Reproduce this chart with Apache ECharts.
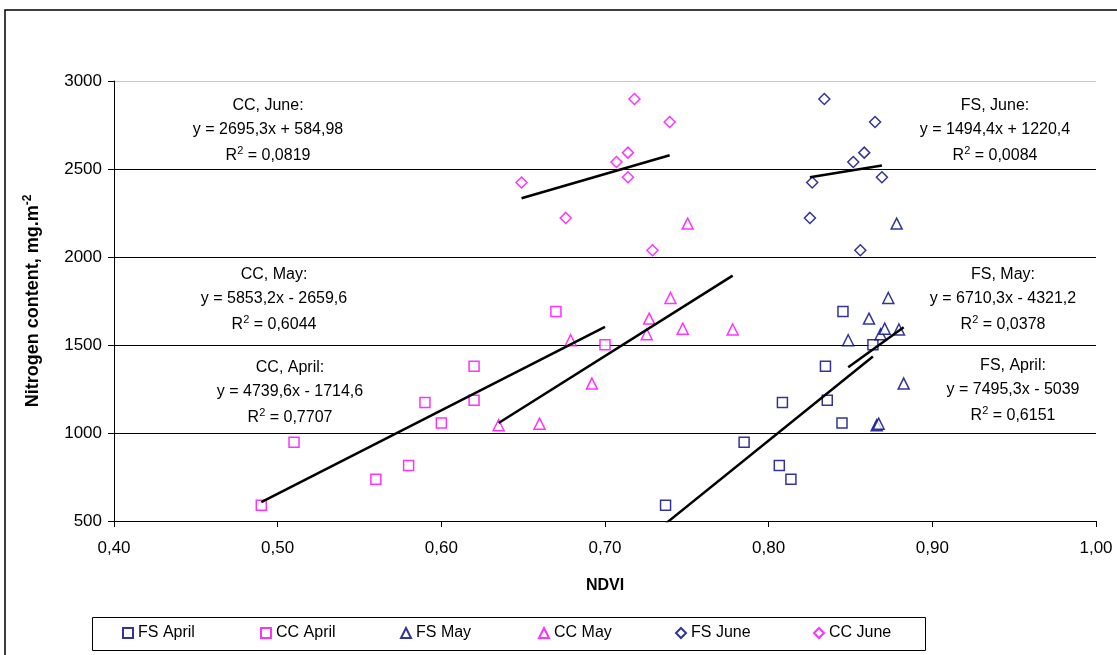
<!DOCTYPE html>
<html>
<head>
<meta charset="utf-8">
<script src="https://cdn.jsdelivr.net/npm/echarts@6/dist/echarts.min.js"></script>
<style>
  html, body { margin: 0; padding: 0; background: #fff; }
  #chart { width: 1117px; height: 655px; }
</style>
</head>
<body>
<div id="chart"></div>
<script>
// Tick values of both axes
const xTicks = [0.40, 0.50, 0.60, 0.70, 0.80, 0.90, 1.00];
const yTicks = [500, 1000, 1500, 2000, 2500, 3000];

// Series, in legend order
const seriesNames = ['FS April', 'CC April', 'FS May', 'CC May', 'FS June', 'CC June'];

// Nitrogen content (mg.m-2) of the sampled plots per month
const nitrogenApril = [590, 947, 737, 816, 1173, 1057, 1379, 1186, 1691, 1502];
const nitrogenMay   = [1044, 1053, 1527, 1281, 1561, 1650, 1767, 1593, 2190, 1588];
const nitrogenJune  = [2898, 2767, 2593, 2540, 2453, 2423, 2222, 2038];

// NDVI readings of the same plots, FS and CC sensors
const ndviFsApril = [0.737, 0.785, 0.8136, 0.8065, 0.8084, 0.8448, 0.8347, 0.8358, 0.8454, 0.8637];
const ndviCcApril = [0.49, 0.51, 0.56, 0.58, 0.59, 0.60, 0.62, 0.62, 0.67, 0.70];
const ndviFsMay   = [0.866, 0.8672, 0.8486, 0.8825, 0.8684, 0.8613, 0.8731, 0.8709, 0.8782, 0.8796];
const ndviCcMay   = [0.635, 0.66, 0.679, 0.692, 0.7255, 0.727, 0.74, 0.7475, 0.7505, 0.778];
const ndviFsJune  = [0.834, 0.865, 0.8584, 0.8517, 0.8692, 0.8266, 0.8252, 0.856];
const ndviCcJune  = [0.718, 0.7395, 0.714, 0.707, 0.714, 0.649, 0.676, 0.729];

// Linear trend coefficients (y = slope * x + intercept) and R² per series
const trendSlope     = [7495.3, 4739.6, 6710.3, 5853.2, 1494.4, 2695.3];
const trendIntercept = [-5039, -1714.6, -4321.2, -2659.6, 1220.4, 584.98];
const trendR2        = [0.6151, 0.7707, 0.0378, 0.6044, 0.0084, 0.0819];

const ndviSets = [ndviFsApril, ndviCcApril, ndviFsMay, ndviCcMay, ndviFsJune, ndviCcJune];
const nSets = [nitrogenApril, nitrogenApril, nitrogenMay, nitrogenMay, nitrogenJune, nitrogenJune];

const FS_COLOR = '#000080';
const CC_COLOR = '#ff00ff';
const FONT = '"Liberation Sans", Arial, sans-serif';
const symbols = ['rect', 'rect', 'triangle', 'triangle', 'diamond', 'diamond'];

const fmt = v => String(v).replace('.', ',');

const scatterSeries = seriesNames.map((name, i) => ({
  name: name,
  type: 'scatter',
  symbol: symbols[i],
  symbolSize: symbols[i] === 'rect' ? 10 : 11,
  itemStyle: {
    color: '#fff',
    borderColor: name.startsWith('FS') ? FS_COLOR : CC_COLOR,
    borderWidth: 1.5
  },
  z: 3,
  data: ndviSets[i].map((x, k) => [x, nSets[i][k]])
}));

const trendSeries = seriesNames.map((name, i) => {
  const xs = ndviSets[i];
  const x0 = Math.min(...xs), x1 = Math.max(...xs);
  return {
    name: name + ' trend',
    type: 'line',
    symbol: 'none',
    silent: true,
    clip: true,
    lineStyle: { color: '#000', width: 2.5 },
    z: 4,
    data: [[x0, trendSlope[i] * x0 + trendIntercept[i]],
           [x1, trendSlope[i] * x1 + trendIntercept[i]]]
  };
});

// Equation captions: title, equation and R² line
const captionPos = [
  [1013, 366], [290, 368], [1003, 275], [274, 275], [995, 106], [268, 106]
];
const captionTitles = ['FS, April:', 'CC, April:', 'FS, May:', 'CC, May:', 'FS, June:', 'CC, June:'];

const captions = [];
seriesNames.forEach((name, i) => {
  const [cx, cy] = captionPos[i];
  const b = trendIntercept[i];
  const eq = 'y = ' + fmt(trendSlope[i]) + 'x ' + (b < 0 ? '- ' : '+ ') + fmt(Math.abs(b));
  const base = { fill: '#000', font: '16px ' + FONT, textAlign: 'center', textVerticalAlign: 'middle' };
  captions.push({ type: 'text', x: cx, y: cy, style: Object.assign({ text: captionTitles[i] }, base) });
  captions.push({ type: 'text', x: cx, y: cy + 23.5, style: Object.assign({ text: eq }, base) });
  captions.push({
    type: 'text', x: cx, y: cy + 49.5,
    style: {
      text: '{b|R}{s|2}{b| = ' + fmt(trendR2[i]) + '}',
      textAlign: 'center', textVerticalAlign: 'middle',
      rich: {
        b: { fontSize: 16, fontFamily: FONT, color: '#000', lineHeight: 20 },
        s: { fontSize: 11, fontFamily: FONT, color: '#000', lineHeight: 20, verticalAlign: 'top' }
      }
    }
  });
});

// Evenly spaced legend entries inside one framed box
const legendLefts = [122, 260, 400, 538, 675, 813];
const legends = seriesNames.map((name, i) => ({
  data: [name],
  left: legendLefts[i], top: 625,
  padding: 0,
  itemWidth: 10, itemHeight: 10,
  itemTextGap: 6,
  textStyle: { fontSize: 16, color: '#000', fontFamily: FONT }
}));

const chart = echarts.init(document.getElementById('chart'), null, { renderer: 'canvas' });

chart.setOption({
  backgroundColor: '#fff',
  animation: false,
  textStyle: { fontFamily: FONT, color: '#000' },
  grid: { left: 114, top: 81, right: 21, bottom: 134, containLabel: false },
  xAxis: {
    type: 'value',
    min: xTicks[0], max: xTicks[xTicks.length - 1], interval: 0.1,
    name: 'NDVI',
    nameLocation: 'middle',
    nameGap: 57,
    nameTextStyle: { fontSize: 16, fontWeight: 'bold', color: '#000', fontFamily: FONT },
    axisLine: { lineStyle: { color: '#000', width: 1 } },
    axisTick: { show: true, inside: false, length: 6, lineStyle: { color: '#000' } },
    axisLabel: { fontSize: 17, color: '#000', margin: 19, fontFamily: FONT,
                 formatter: v => v.toFixed(2).replace('.', ',') },
    splitLine: { show: false }
  },
  yAxis: {
    type: 'value',
    min: yTicks[0], max: yTicks[yTicks.length - 1], interval: 500,
    name: 'Nitrogen content, mg.m{sup|-2}',
    nameLocation: 'middle',
    nameGap: 70,
    nameTextStyle: {
      fontSize: 18, fontWeight: 'bold', color: '#000', fontFamily: FONT,
      rich: { sup: { fontSize: 12, fontWeight: 'bold', color: '#000', fontFamily: FONT, verticalAlign: 'top', lineHeight: 22 } }
    },
    axisLine: { show: true, lineStyle: { color: '#000', width: 1 } },
    axisTick: { show: true, inside: false, length: 6, lineStyle: { color: '#000' } },
    axisLabel: { fontSize: 17, color: '#000', margin: 12, fontFamily: FONT,
                 formatter: v => String(v) },
    splitLine: {
      show: true,
      lineStyle: { color: ['#000', '#000', '#000', '#000', '#000', '#c8c8c8'], width: 1 }
    }
  },
  legend: legends,
  graphic: [
    { type: 'rect', shape: { x: 5, y: 10, width: 1200, height: 700 },
      style: { fill: 'none', stroke: '#000', lineWidth: 1.5 }, silent: true, z: -1 },
    { type: 'rect', shape: { x: 92.5, y: 617.5, width: 833, height: 33 },
      style: { fill: 'none', stroke: '#000', lineWidth: 1 }, silent: true, z: -1 }
  ].concat(captions),
  series: scatterSeries.concat(trendSeries)
});
</script>
</body>
</html>
